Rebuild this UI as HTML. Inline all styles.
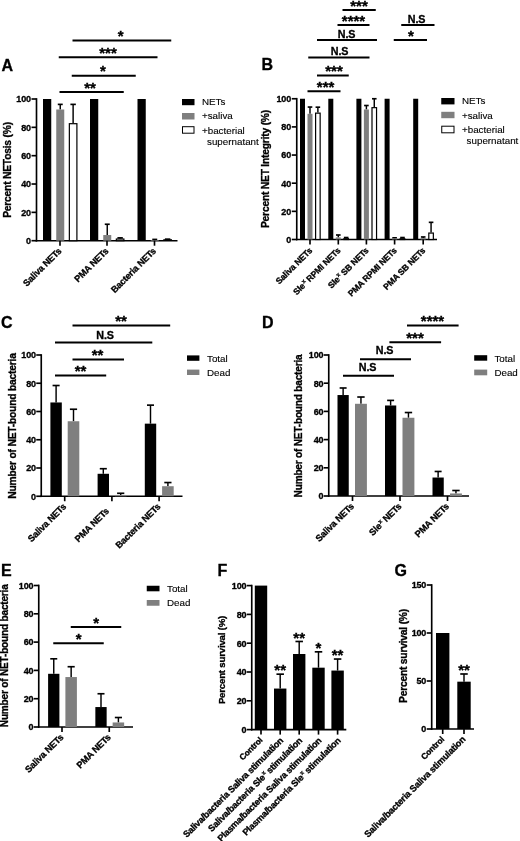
<!DOCTYPE html>
<html>
<head>
<meta charset="utf-8">
<title>Figure</title>
<style>
html, body { margin:0; padding:0; background:#fff; }
body { width:520px; height:841px; overflow:hidden; font-family: 'Liberation Sans', sans-serif; }
svg { display:block; filter: grayscale(1); }
svg text { font-family: "Liberation Sans", sans-serif; fill:#000; }
</style>
</head>
<body>
<svg width="520" height="841" viewBox="0 0 520 841">
<rect x="0" y="0" width="520" height="841" fill="#fff"/>
<text x="1.50" y="70.50" font-size="16" font-weight="bold" stroke="#000" stroke-width="0.32" text-anchor="start">A</text>
<line x1="36.50" y1="98.17" x2="36.50" y2="241.52" stroke="#000" stroke-width="1.65"/>
<line x1="35.67" y1="240.70" x2="177.50" y2="240.70" stroke="#000" stroke-width="1.65"/>
<line x1="31.50" y1="240.70" x2="36.50" y2="240.70" stroke="#000" stroke-width="1.65"/>
<text x="30.80" y="244.00" font-size="9.0" font-weight="bold" stroke="#000" stroke-width="0.32" text-anchor="end" letter-spacing="-0.18">0</text>
<line x1="31.50" y1="212.36" x2="36.50" y2="212.36" stroke="#000" stroke-width="1.65"/>
<text x="30.80" y="215.66" font-size="9.0" font-weight="bold" stroke="#000" stroke-width="0.32" text-anchor="end" letter-spacing="-0.18">20</text>
<line x1="31.50" y1="184.02" x2="36.50" y2="184.02" stroke="#000" stroke-width="1.65"/>
<text x="30.80" y="187.32" font-size="9.0" font-weight="bold" stroke="#000" stroke-width="0.32" text-anchor="end" letter-spacing="-0.18">40</text>
<line x1="31.50" y1="155.68" x2="36.50" y2="155.68" stroke="#000" stroke-width="1.65"/>
<text x="30.80" y="158.98" font-size="9.0" font-weight="bold" stroke="#000" stroke-width="0.32" text-anchor="end" letter-spacing="-0.18">60</text>
<line x1="31.50" y1="127.34" x2="36.50" y2="127.34" stroke="#000" stroke-width="1.65"/>
<text x="30.80" y="130.64" font-size="9.0" font-weight="bold" stroke="#000" stroke-width="0.32" text-anchor="end" letter-spacing="-0.18">80</text>
<line x1="31.50" y1="99.00" x2="36.50" y2="99.00" stroke="#000" stroke-width="1.65"/>
<text x="30.80" y="102.30" font-size="9.0" font-weight="bold" stroke="#000" stroke-width="0.32" text-anchor="end" letter-spacing="-0.18">100</text>
<text x="10.60" y="170.00" font-size="10.25" font-weight="bold" stroke="#000" stroke-width="0.32" text-anchor="middle" transform="rotate(-90 10.60 170.00)" letter-spacing="-0.20">Percent NETosis (%)</text>
<rect x="43.00" y="99.00" width="8.25" height="141.70" fill="#000"/>
<line x1="60.25" y1="104.38" x2="60.25" y2="109.49" stroke="#000" stroke-width="1.45"/>
<line x1="57.77" y1="104.38" x2="62.73" y2="104.38" stroke="#000" stroke-width="1.65"/>
<rect x="56.25" y="109.49" width="8.00" height="131.21" fill="#7f7f7f"/>
<line x1="73.12" y1="104.38" x2="73.12" y2="123.09" stroke="#000" stroke-width="1.45"/>
<line x1="70.41" y1="104.38" x2="75.84" y2="104.38" stroke="#000" stroke-width="1.65"/>
<rect x="69.35" y="123.69" width="7.55" height="117.01" fill="#fff" stroke="#000" stroke-width="1.2"/>
<line x1="60.00" y1="240.70" x2="60.00" y2="245.70" stroke="#000" stroke-width="1.65"/>
<text x="62.00" y="251.70" font-size="9.16" font-weight="bold" stroke="#000" stroke-width="0.32" text-anchor="end" transform="rotate(-45 62.00 251.70)" letter-spacing="-0.18">Saliva NETs</text>
<rect x="90.00" y="99.00" width="8.25" height="141.70" fill="#000"/>
<line x1="107.25" y1="224.26" x2="107.25" y2="235.03" stroke="#000" stroke-width="1.45"/>
<line x1="104.77" y1="224.26" x2="109.73" y2="224.26" stroke="#000" stroke-width="1.65"/>
<rect x="103.25" y="235.03" width="8.00" height="5.67" fill="#7f7f7f"/>
<line x1="120.12" y1="237.87" x2="120.12" y2="238.43" stroke="#000" stroke-width="1.45"/>
<line x1="117.41" y1="237.87" x2="122.84" y2="237.87" stroke="#000" stroke-width="1.65"/>
<rect x="116.35" y="239.03" width="7.55" height="1.67" fill="#fff" stroke="#000" stroke-width="1.2"/>
<line x1="107.00" y1="240.70" x2="107.00" y2="245.70" stroke="#000" stroke-width="1.65"/>
<text x="109.00" y="251.70" font-size="9.16" font-weight="bold" stroke="#000" stroke-width="0.32" text-anchor="end" transform="rotate(-45 109.00 251.70)" letter-spacing="-0.18">PMA NETs</text>
<rect x="137.50" y="99.00" width="8.25" height="141.70" fill="#000"/>
<line x1="154.75" y1="239.42" x2="154.75" y2="239.99" stroke="#000" stroke-width="1.45"/>
<line x1="152.27" y1="239.42" x2="157.23" y2="239.42" stroke="#000" stroke-width="1.65"/>
<rect x="150.75" y="239.99" width="8.00" height="0.71" fill="#7f7f7f"/>
<line x1="167.62" y1="239.14" x2="167.62" y2="239.71" stroke="#000" stroke-width="1.45"/>
<line x1="164.91" y1="239.14" x2="170.34" y2="239.14" stroke="#000" stroke-width="1.65"/>
<line x1="163.25" y1="239.71" x2="172.00" y2="239.71" stroke="#000" stroke-width="1.0"/>
<line x1="154.50" y1="240.70" x2="154.50" y2="245.70" stroke="#000" stroke-width="1.65"/>
<text x="156.50" y="251.70" font-size="9.16" font-weight="bold" stroke="#000" stroke-width="0.32" text-anchor="end" transform="rotate(-45 156.50 251.70)" letter-spacing="-0.18">Bacteria NETs</text>
<line x1="72.50" y1="40.50" x2="171.25" y2="40.50" stroke="#000" stroke-width="2.0"/>
<text x="120.75" y="41.00" font-size="15" font-weight="bold" stroke="#000" stroke-width="0.32" text-anchor="middle">*</text>
<line x1="58.75" y1="57.20" x2="157.50" y2="57.20" stroke="#000" stroke-width="2.0"/>
<text x="108.00" y="57.70" font-size="15" font-weight="bold" stroke="#000" stroke-width="0.32" text-anchor="middle">***</text>
<line x1="71.75" y1="75.80" x2="135.75" y2="75.80" stroke="#000" stroke-width="2.0"/>
<text x="103.00" y="76.30" font-size="15" font-weight="bold" stroke="#000" stroke-width="0.32" text-anchor="middle">*</text>
<line x1="59.50" y1="92.00" x2="123.75" y2="92.00" stroke="#000" stroke-width="2.0"/>
<text x="90.00" y="92.50" font-size="15" font-weight="bold" stroke="#000" stroke-width="0.32" text-anchor="middle">**</text>
<rect x="182.00" y="99.00" width="12.50" height="6.20" fill="#000"/>
<text x="202.00" y="105.30" font-size="9.8" stroke="#000" stroke-width="0.12" text-anchor="start">NETs</text>
<rect x="182.00" y="113.00" width="12.50" height="6.50" fill="#7f7f7f"/>
<text x="202.00" y="119.40" font-size="9.8" stroke="#000" stroke-width="0.12" text-anchor="start">+saliva</text>
<rect x="182.50" y="126.70" width="11.50" height="6.50" fill="#fff" stroke="#000" stroke-width="1.0"/>
<text x="202.00" y="133.50" font-size="9.8" stroke="#000" stroke-width="0.12" text-anchor="start">+bacterial</text>
<text x="207.00" y="145.40" font-size="9.8" stroke="#000" stroke-width="0.12" text-anchor="start">supernatant</text>
<text x="261.50" y="70.00" font-size="16" font-weight="bold" stroke="#000" stroke-width="0.32" text-anchor="start">B</text>
<line x1="296.75" y1="97.92" x2="296.75" y2="240.32" stroke="#000" stroke-width="1.65"/>
<line x1="295.93" y1="239.50" x2="437.00" y2="239.50" stroke="#000" stroke-width="1.65"/>
<line x1="291.75" y1="239.50" x2="296.75" y2="239.50" stroke="#000" stroke-width="1.65"/>
<text x="291.00" y="242.80" font-size="9.0" font-weight="bold" stroke="#000" stroke-width="0.32" text-anchor="end" letter-spacing="-0.18">0</text>
<line x1="291.75" y1="211.35" x2="296.75" y2="211.35" stroke="#000" stroke-width="1.65"/>
<text x="291.00" y="214.65" font-size="9.0" font-weight="bold" stroke="#000" stroke-width="0.32" text-anchor="end" letter-spacing="-0.18">20</text>
<line x1="291.75" y1="183.20" x2="296.75" y2="183.20" stroke="#000" stroke-width="1.65"/>
<text x="291.00" y="186.50" font-size="9.0" font-weight="bold" stroke="#000" stroke-width="0.32" text-anchor="end" letter-spacing="-0.18">40</text>
<line x1="291.75" y1="155.05" x2="296.75" y2="155.05" stroke="#000" stroke-width="1.65"/>
<text x="291.00" y="158.35" font-size="9.0" font-weight="bold" stroke="#000" stroke-width="0.32" text-anchor="end" letter-spacing="-0.18">60</text>
<line x1="291.75" y1="126.90" x2="296.75" y2="126.90" stroke="#000" stroke-width="1.65"/>
<text x="291.00" y="130.20" font-size="9.0" font-weight="bold" stroke="#000" stroke-width="0.32" text-anchor="end" letter-spacing="-0.18">80</text>
<line x1="291.75" y1="98.75" x2="296.75" y2="98.75" stroke="#000" stroke-width="1.65"/>
<text x="291.00" y="102.05" font-size="9.0" font-weight="bold" stroke="#000" stroke-width="0.32" text-anchor="end" letter-spacing="-0.18">100</text>
<text x="268.70" y="169.00" font-size="10.25" font-weight="bold" stroke="#000" stroke-width="0.32" text-anchor="middle" transform="rotate(-90 268.70 169.00)" letter-spacing="-0.20">Percent NET Integrity (%)</text>
<rect x="300.00" y="98.75" width="5.00" height="140.75" fill="#000"/>
<line x1="310.00" y1="107.05" x2="310.00" y2="113.81" stroke="#000" stroke-width="1.45"/>
<line x1="307.70" y1="107.05" x2="312.30" y2="107.05" stroke="#000" stroke-width="1.65"/>
<rect x="307.50" y="113.81" width="5.00" height="125.69" fill="#7f7f7f"/>
<line x1="317.88" y1="107.19" x2="317.88" y2="112.54" stroke="#000" stroke-width="1.45"/>
<line x1="315.57" y1="107.19" x2="320.18" y2="107.19" stroke="#000" stroke-width="1.65"/>
<rect x="315.60" y="113.14" width="4.55" height="126.36" fill="#fff" stroke="#000" stroke-width="1.2"/>
<line x1="310.00" y1="239.50" x2="310.00" y2="244.50" stroke="#000" stroke-width="1.65"/>
<text x="312.70" y="251.30" font-size="8.69" font-weight="bold" stroke="#000" stroke-width="0.32" text-anchor="end" transform="rotate(-45 312.70 251.30)" letter-spacing="-0.17">Saliva NETs</text>
<rect x="328.30" y="98.75" width="5.00" height="140.75" fill="#000"/>
<line x1="338.30" y1="235.00" x2="338.30" y2="237.39" stroke="#000" stroke-width="1.45"/>
<line x1="336.00" y1="235.00" x2="340.60" y2="235.00" stroke="#000" stroke-width="1.65"/>
<rect x="335.80" y="237.39" width="5.00" height="2.11" fill="#7f7f7f"/>
<line x1="346.18" y1="237.53" x2="346.18" y2="238.09" stroke="#000" stroke-width="1.45"/>
<line x1="343.88" y1="237.53" x2="348.48" y2="237.53" stroke="#000" stroke-width="1.65"/>
<rect x="343.90" y="238.69" width="4.55" height="0.81" fill="#fff" stroke="#000" stroke-width="1.2"/>
<line x1="338.30" y1="239.50" x2="338.30" y2="244.50" stroke="#000" stroke-width="1.65"/>
<text x="341.00" y="251.30" font-size="8.69" font-weight="bold" stroke="#000" stroke-width="0.32" text-anchor="end" transform="rotate(-45 341.00 251.30)" letter-spacing="-0.17">Sle<tspan font-size="5.8" dx="0.6" dy="-3.4">x</tspan><tspan dy="3.4"> </tspan>RPMI NETs</text>
<rect x="356.40" y="98.75" width="5.00" height="140.75" fill="#000"/>
<line x1="366.40" y1="105.51" x2="366.40" y2="109.45" stroke="#000" stroke-width="1.45"/>
<line x1="364.10" y1="105.51" x2="368.70" y2="105.51" stroke="#000" stroke-width="1.65"/>
<rect x="363.90" y="109.45" width="5.00" height="130.05" fill="#7f7f7f"/>
<line x1="374.27" y1="98.75" x2="374.27" y2="107.05" stroke="#000" stroke-width="1.45"/>
<line x1="371.97" y1="98.75" x2="376.57" y2="98.75" stroke="#000" stroke-width="1.65"/>
<rect x="372.00" y="107.65" width="4.55" height="131.85" fill="#fff" stroke="#000" stroke-width="1.2"/>
<line x1="366.40" y1="239.50" x2="366.40" y2="244.50" stroke="#000" stroke-width="1.65"/>
<text x="369.10" y="251.30" font-size="8.69" font-weight="bold" stroke="#000" stroke-width="0.32" text-anchor="end" transform="rotate(-45 369.10 251.30)" letter-spacing="-0.17">Sle<tspan font-size="5.8" dx="0.6" dy="-3.4">x</tspan><tspan dy="3.4"> </tspan>SB NETs</text>
<rect x="384.60" y="98.75" width="5.00" height="140.75" fill="#000"/>
<line x1="394.60" y1="237.81" x2="394.60" y2="238.37" stroke="#000" stroke-width="1.45"/>
<line x1="392.30" y1="237.81" x2="396.90" y2="237.81" stroke="#000" stroke-width="1.65"/>
<rect x="392.10" y="238.37" width="5.00" height="1.13" fill="#7f7f7f"/>
<line x1="402.48" y1="237.53" x2="402.48" y2="238.09" stroke="#000" stroke-width="1.45"/>
<line x1="400.18" y1="237.53" x2="404.78" y2="237.53" stroke="#000" stroke-width="1.65"/>
<rect x="400.20" y="238.69" width="4.55" height="0.81" fill="#fff" stroke="#000" stroke-width="1.2"/>
<line x1="394.60" y1="239.50" x2="394.60" y2="244.50" stroke="#000" stroke-width="1.65"/>
<text x="397.30" y="251.30" font-size="8.69" font-weight="bold" stroke="#000" stroke-width="0.32" text-anchor="end" transform="rotate(-45 397.30 251.30)" letter-spacing="-0.17">PMA RPMI NETs</text>
<rect x="413.20" y="98.75" width="5.00" height="140.75" fill="#000"/>
<line x1="423.20" y1="236.97" x2="423.20" y2="238.09" stroke="#000" stroke-width="1.45"/>
<line x1="420.90" y1="236.97" x2="425.50" y2="236.97" stroke="#000" stroke-width="1.65"/>
<rect x="420.70" y="238.09" width="5.00" height="1.41" fill="#7f7f7f"/>
<line x1="431.07" y1="222.33" x2="431.07" y2="232.46" stroke="#000" stroke-width="1.45"/>
<line x1="428.77" y1="222.33" x2="433.38" y2="222.33" stroke="#000" stroke-width="1.65"/>
<rect x="428.80" y="233.06" width="4.55" height="6.44" fill="#fff" stroke="#000" stroke-width="1.2"/>
<line x1="423.20" y1="239.50" x2="423.20" y2="244.50" stroke="#000" stroke-width="1.65"/>
<text x="425.90" y="251.30" font-size="8.69" font-weight="bold" stroke="#000" stroke-width="0.32" text-anchor="end" transform="rotate(-45 425.90 251.30)" letter-spacing="-0.17">PMA SB NETs</text>
<line x1="342.50" y1="10.00" x2="375.75" y2="10.00" stroke="#000" stroke-width="2.0"/>
<text x="359.00" y="10.50" font-size="15" font-weight="bold" stroke="#000" stroke-width="0.32" text-anchor="middle">***</text>
<line x1="337.50" y1="25.00" x2="369.50" y2="25.00" stroke="#000" stroke-width="2.0"/>
<text x="353.50" y="25.50" font-size="15" font-weight="bold" stroke="#000" stroke-width="0.32" text-anchor="middle">****</text>
<line x1="317.00" y1="40.00" x2="377.00" y2="40.00" stroke="#000" stroke-width="2.0"/>
<text x="346.50" y="37.80" font-size="10.76" font-weight="bold" stroke="#000" stroke-width="0.32" text-anchor="middle" letter-spacing="-0.21">N.S</text>
<line x1="308.25" y1="57.50" x2="369.50" y2="57.50" stroke="#000" stroke-width="2.0"/>
<text x="339.50" y="54.50" font-size="10.76" font-weight="bold" stroke="#000" stroke-width="0.32" text-anchor="middle" letter-spacing="-0.21">N.S</text>
<line x1="317.00" y1="75.50" x2="348.75" y2="75.50" stroke="#000" stroke-width="2.0"/>
<text x="334.00" y="76.00" font-size="15" font-weight="bold" stroke="#000" stroke-width="0.32" text-anchor="middle">***</text>
<line x1="307.50" y1="91.25" x2="340.50" y2="91.25" stroke="#000" stroke-width="2.0"/>
<text x="325.60" y="91.75" font-size="15" font-weight="bold" stroke="#000" stroke-width="0.32" text-anchor="middle">***</text>
<line x1="401.25" y1="25.00" x2="434.50" y2="25.00" stroke="#000" stroke-width="2.0"/>
<text x="416.50" y="23.00" font-size="10.76" font-weight="bold" stroke="#000" stroke-width="0.32" text-anchor="middle" letter-spacing="-0.21">N.S</text>
<line x1="393.75" y1="40.00" x2="427.00" y2="40.00" stroke="#000" stroke-width="2.0"/>
<text x="411.00" y="40.50" font-size="15" font-weight="bold" stroke="#000" stroke-width="0.32" text-anchor="middle">*</text>
<rect x="441.25" y="98.00" width="13.25" height="6.40" fill="#000"/>
<text x="462.00" y="104.40" font-size="9.8" stroke="#000" stroke-width="0.12" text-anchor="start">NETs</text>
<rect x="441.25" y="111.80" width="13.25" height="6.40" fill="#7f7f7f"/>
<text x="462.00" y="118.60" font-size="9.8" stroke="#000" stroke-width="0.12" text-anchor="start">+saliva</text>
<rect x="441.75" y="126.20" width="12.25" height="6.60" fill="#fff" stroke="#000" stroke-width="1.0"/>
<text x="462.00" y="133.00" font-size="9.8" stroke="#000" stroke-width="0.12" text-anchor="start">+bacterial</text>
<text x="466.60" y="144.00" font-size="9.8" stroke="#000" stroke-width="0.12" text-anchor="start">supernatant</text>
<text x="1.00" y="328.00" font-size="16" font-weight="bold" stroke="#000" stroke-width="0.32" text-anchor="start">C</text>
<line x1="41.25" y1="354.18" x2="41.25" y2="497.07" stroke="#000" stroke-width="1.65"/>
<line x1="40.42" y1="496.25" x2="182.50" y2="496.25" stroke="#000" stroke-width="1.65"/>
<line x1="36.25" y1="496.25" x2="41.25" y2="496.25" stroke="#000" stroke-width="1.65"/>
<text x="35.80" y="499.55" font-size="9.0" font-weight="bold" stroke="#000" stroke-width="0.32" text-anchor="end" letter-spacing="-0.18">0</text>
<line x1="36.25" y1="468.00" x2="41.25" y2="468.00" stroke="#000" stroke-width="1.65"/>
<text x="35.80" y="471.30" font-size="9.0" font-weight="bold" stroke="#000" stroke-width="0.32" text-anchor="end" letter-spacing="-0.18">20</text>
<line x1="36.25" y1="439.75" x2="41.25" y2="439.75" stroke="#000" stroke-width="1.65"/>
<text x="35.80" y="443.05" font-size="9.0" font-weight="bold" stroke="#000" stroke-width="0.32" text-anchor="end" letter-spacing="-0.18">40</text>
<line x1="36.25" y1="411.50" x2="41.25" y2="411.50" stroke="#000" stroke-width="1.65"/>
<text x="35.80" y="414.80" font-size="9.0" font-weight="bold" stroke="#000" stroke-width="0.32" text-anchor="end" letter-spacing="-0.18">60</text>
<line x1="36.25" y1="383.25" x2="41.25" y2="383.25" stroke="#000" stroke-width="1.65"/>
<text x="35.80" y="386.55" font-size="9.0" font-weight="bold" stroke="#000" stroke-width="0.32" text-anchor="end" letter-spacing="-0.18">80</text>
<line x1="36.25" y1="355.00" x2="41.25" y2="355.00" stroke="#000" stroke-width="1.65"/>
<text x="35.80" y="358.30" font-size="9.0" font-weight="bold" stroke="#000" stroke-width="0.32" text-anchor="end" letter-spacing="-0.18">100</text>
<text x="16.00" y="426.00" font-size="10.25" font-weight="bold" stroke="#000" stroke-width="0.32" text-anchor="middle" transform="rotate(-90 16.00 426.00)" letter-spacing="-0.20">Number of NET-bound bacteria</text>
<line x1="56.10" y1="385.51" x2="56.10" y2="402.46" stroke="#000" stroke-width="1.45"/>
<line x1="52.57" y1="385.51" x2="59.63" y2="385.51" stroke="#000" stroke-width="1.65"/>
<rect x="50.40" y="402.46" width="11.40" height="93.79" fill="#000"/>
<line x1="73.50" y1="409.24" x2="73.50" y2="421.25" stroke="#000" stroke-width="1.45"/>
<line x1="69.90" y1="409.24" x2="77.10" y2="409.24" stroke="#000" stroke-width="1.65"/>
<rect x="67.70" y="421.25" width="11.60" height="75.00" fill="#7f7f7f"/>
<line x1="64.70" y1="496.25" x2="64.70" y2="501.25" stroke="#000" stroke-width="1.65"/>
<text x="66.70" y="507.25" font-size="9.16" font-weight="bold" stroke="#000" stroke-width="0.32" text-anchor="end" transform="rotate(-45 66.70 507.25)" letter-spacing="-0.18">Saliva NETs</text>
<line x1="103.30" y1="468.71" x2="103.30" y2="473.79" stroke="#000" stroke-width="1.45"/>
<line x1="99.77" y1="468.71" x2="106.83" y2="468.71" stroke="#000" stroke-width="1.65"/>
<rect x="97.60" y="473.79" width="11.40" height="22.46" fill="#000"/>
<line x1="120.70" y1="493.28" x2="120.70" y2="494.98" stroke="#000" stroke-width="1.45"/>
<line x1="117.10" y1="493.28" x2="124.30" y2="493.28" stroke="#000" stroke-width="1.65"/>
<rect x="114.90" y="494.98" width="11.60" height="1.27" fill="#7f7f7f"/>
<line x1="111.90" y1="496.25" x2="111.90" y2="501.25" stroke="#000" stroke-width="1.65"/>
<text x="109.60" y="511.75" font-size="9.16" font-weight="bold" stroke="#000" stroke-width="0.32" text-anchor="end" transform="rotate(-45 109.60 511.75)" letter-spacing="-0.18">PMA NETs</text>
<line x1="150.50" y1="405.14" x2="150.50" y2="423.65" stroke="#000" stroke-width="1.45"/>
<line x1="146.97" y1="405.14" x2="154.03" y2="405.14" stroke="#000" stroke-width="1.65"/>
<rect x="144.80" y="423.65" width="11.40" height="72.60" fill="#000"/>
<line x1="167.90" y1="482.55" x2="167.90" y2="486.22" stroke="#000" stroke-width="1.45"/>
<line x1="164.30" y1="482.55" x2="171.50" y2="482.55" stroke="#000" stroke-width="1.65"/>
<rect x="162.10" y="486.22" width="11.60" height="10.03" fill="#7f7f7f"/>
<line x1="159.10" y1="496.25" x2="159.10" y2="501.25" stroke="#000" stroke-width="1.65"/>
<text x="161.10" y="507.25" font-size="9.16" font-weight="bold" stroke="#000" stroke-width="0.32" text-anchor="end" transform="rotate(-45 161.10 507.25)" letter-spacing="-0.18">Bacteria NETs</text>
<line x1="72.50" y1="325.40" x2="170.20" y2="325.40" stroke="#000" stroke-width="2.0"/>
<text x="121.00" y="325.90" font-size="15" font-weight="bold" stroke="#000" stroke-width="0.32" text-anchor="middle">**</text>
<line x1="55.00" y1="342.50" x2="152.30" y2="342.50" stroke="#000" stroke-width="2.0"/>
<text x="105.00" y="338.80" font-size="10.76" font-weight="bold" stroke="#000" stroke-width="0.32" text-anchor="middle" letter-spacing="-0.21">N.S</text>
<line x1="72.50" y1="359.50" x2="124.00" y2="359.50" stroke="#000" stroke-width="2.0"/>
<text x="97.50" y="360.00" font-size="15" font-weight="bold" stroke="#000" stroke-width="0.32" text-anchor="middle">**</text>
<line x1="55.00" y1="375.50" x2="106.20" y2="375.50" stroke="#000" stroke-width="2.0"/>
<text x="80.50" y="376.00" font-size="15" font-weight="bold" stroke="#000" stroke-width="0.32" text-anchor="middle">**</text>
<rect x="187.00" y="355.40" width="12.40" height="5.40" fill="#000"/>
<text x="207.00" y="361.60" font-size="9.8" stroke="#000" stroke-width="0.12" text-anchor="start">Total</text>
<rect x="187.00" y="369.60" width="12.40" height="5.40" fill="#7f7f7f"/>
<text x="207.00" y="375.60" font-size="9.8" stroke="#000" stroke-width="0.12" text-anchor="start">Dead</text>
<text x="262.00" y="328.00" font-size="16" font-weight="bold" stroke="#000" stroke-width="0.32" text-anchor="start">D</text>
<line x1="328.75" y1="354.18" x2="328.75" y2="496.82" stroke="#000" stroke-width="1.65"/>
<line x1="327.93" y1="496.00" x2="469.00" y2="496.00" stroke="#000" stroke-width="1.65"/>
<line x1="323.75" y1="496.00" x2="328.75" y2="496.00" stroke="#000" stroke-width="1.65"/>
<text x="323.30" y="499.30" font-size="9.0" font-weight="bold" stroke="#000" stroke-width="0.32" text-anchor="end" letter-spacing="-0.18">0</text>
<line x1="323.75" y1="467.80" x2="328.75" y2="467.80" stroke="#000" stroke-width="1.65"/>
<text x="323.30" y="471.10" font-size="9.0" font-weight="bold" stroke="#000" stroke-width="0.32" text-anchor="end" letter-spacing="-0.18">20</text>
<line x1="323.75" y1="439.60" x2="328.75" y2="439.60" stroke="#000" stroke-width="1.65"/>
<text x="323.30" y="442.90" font-size="9.0" font-weight="bold" stroke="#000" stroke-width="0.32" text-anchor="end" letter-spacing="-0.18">40</text>
<line x1="323.75" y1="411.40" x2="328.75" y2="411.40" stroke="#000" stroke-width="1.65"/>
<text x="323.30" y="414.70" font-size="9.0" font-weight="bold" stroke="#000" stroke-width="0.32" text-anchor="end" letter-spacing="-0.18">60</text>
<line x1="323.75" y1="383.20" x2="328.75" y2="383.20" stroke="#000" stroke-width="1.65"/>
<text x="323.30" y="386.50" font-size="9.0" font-weight="bold" stroke="#000" stroke-width="0.32" text-anchor="end" letter-spacing="-0.18">80</text>
<line x1="323.75" y1="355.00" x2="328.75" y2="355.00" stroke="#000" stroke-width="1.65"/>
<text x="323.30" y="358.30" font-size="9.0" font-weight="bold" stroke="#000" stroke-width="0.32" text-anchor="end" letter-spacing="-0.18">100</text>
<text x="302.40" y="426.00" font-size="10.09" font-weight="bold" stroke="#000" stroke-width="0.32" text-anchor="middle" transform="rotate(-90 302.40 426.00)" letter-spacing="-0.20">Number of NET-bound bacteria</text>
<line x1="343.12" y1="387.99" x2="343.12" y2="395.04" stroke="#000" stroke-width="1.45"/>
<line x1="339.64" y1="387.99" x2="346.61" y2="387.99" stroke="#000" stroke-width="1.65"/>
<rect x="337.50" y="395.04" width="11.25" height="100.96" fill="#000"/>
<line x1="360.95" y1="397.02" x2="360.95" y2="403.79" stroke="#000" stroke-width="1.45"/>
<line x1="357.26" y1="397.02" x2="364.64" y2="397.02" stroke="#000" stroke-width="1.65"/>
<rect x="355.00" y="403.79" width="11.90" height="92.21" fill="#7f7f7f"/>
<line x1="352.50" y1="496.00" x2="352.50" y2="501.00" stroke="#000" stroke-width="1.65"/>
<text x="354.50" y="507.00" font-size="9.16" font-weight="bold" stroke="#000" stroke-width="0.32" text-anchor="end" transform="rotate(-45 354.50 507.00)" letter-spacing="-0.18">Saliva NETs</text>
<line x1="390.62" y1="400.40" x2="390.62" y2="405.48" stroke="#000" stroke-width="1.45"/>
<line x1="387.14" y1="400.40" x2="394.11" y2="400.40" stroke="#000" stroke-width="1.65"/>
<rect x="385.00" y="405.48" width="11.25" height="90.52" fill="#000"/>
<line x1="408.45" y1="412.53" x2="408.45" y2="417.75" stroke="#000" stroke-width="1.45"/>
<line x1="404.76" y1="412.53" x2="412.14" y2="412.53" stroke="#000" stroke-width="1.65"/>
<rect x="402.50" y="417.75" width="11.90" height="78.25" fill="#7f7f7f"/>
<line x1="400.00" y1="496.00" x2="400.00" y2="501.00" stroke="#000" stroke-width="1.65"/>
<text x="402.00" y="507.00" font-size="9.16" font-weight="bold" stroke="#000" stroke-width="0.32" text-anchor="end" transform="rotate(-45 402.00 507.00)" letter-spacing="-0.18">Sle<tspan font-size="5.8" dx="0.6" dy="-3.4">x</tspan><tspan dy="3.4"> </tspan>NETs</text>
<line x1="438.12" y1="471.47" x2="438.12" y2="477.53" stroke="#000" stroke-width="1.45"/>
<line x1="434.64" y1="471.47" x2="441.61" y2="471.47" stroke="#000" stroke-width="1.65"/>
<rect x="432.50" y="477.53" width="11.25" height="18.47" fill="#000"/>
<line x1="455.95" y1="490.50" x2="455.95" y2="493.46" stroke="#000" stroke-width="1.45"/>
<line x1="452.26" y1="490.50" x2="459.64" y2="490.50" stroke="#000" stroke-width="1.65"/>
<rect x="450.00" y="493.46" width="11.90" height="2.54" fill="#7f7f7f"/>
<line x1="447.50" y1="496.00" x2="447.50" y2="501.00" stroke="#000" stroke-width="1.65"/>
<text x="449.50" y="507.00" font-size="9.16" font-weight="bold" stroke="#000" stroke-width="0.32" text-anchor="end" transform="rotate(-45 449.50 507.00)" letter-spacing="-0.18">PMA NETs</text>
<line x1="407.00" y1="325.60" x2="458.60" y2="325.60" stroke="#000" stroke-width="2.0"/>
<text x="432.50" y="326.10" font-size="15" font-weight="bold" stroke="#000" stroke-width="0.32" text-anchor="middle">****</text>
<line x1="389.40" y1="342.30" x2="441.10" y2="342.30" stroke="#000" stroke-width="2.0"/>
<text x="415.00" y="342.80" font-size="15" font-weight="bold" stroke="#000" stroke-width="0.32" text-anchor="middle">***</text>
<line x1="360.00" y1="359.30" x2="411.00" y2="359.30" stroke="#000" stroke-width="2.0"/>
<text x="384.50" y="354.00" font-size="10.76" font-weight="bold" stroke="#000" stroke-width="0.32" text-anchor="middle" letter-spacing="-0.21">N.S</text>
<line x1="343.00" y1="375.70" x2="394.00" y2="375.70" stroke="#000" stroke-width="2.0"/>
<text x="367.50" y="371.30" font-size="10.76" font-weight="bold" stroke="#000" stroke-width="0.32" text-anchor="middle" letter-spacing="-0.21">N.S</text>
<rect x="474.20" y="355.20" width="13.00" height="5.50" fill="#000"/>
<text x="494.40" y="361.50" font-size="9.8" stroke="#000" stroke-width="0.12" text-anchor="start">Total</text>
<rect x="474.20" y="369.60" width="13.00" height="5.70" fill="#7f7f7f"/>
<text x="494.40" y="376.00" font-size="9.8" stroke="#000" stroke-width="0.12" text-anchor="start">Dead</text>
<text x="1.00" y="575.50" font-size="16" font-weight="bold" stroke="#000" stroke-width="0.32" text-anchor="start">E</text>
<line x1="38.75" y1="584.67" x2="38.75" y2="727.83" stroke="#000" stroke-width="1.65"/>
<line x1="37.92" y1="727.00" x2="133.00" y2="727.00" stroke="#000" stroke-width="1.65"/>
<line x1="33.75" y1="727.00" x2="38.75" y2="727.00" stroke="#000" stroke-width="1.65"/>
<text x="33.30" y="730.30" font-size="9.0" font-weight="bold" stroke="#000" stroke-width="0.32" text-anchor="end" letter-spacing="-0.18">0</text>
<line x1="33.75" y1="698.70" x2="38.75" y2="698.70" stroke="#000" stroke-width="1.65"/>
<text x="33.30" y="702.00" font-size="9.0" font-weight="bold" stroke="#000" stroke-width="0.32" text-anchor="end" letter-spacing="-0.18">20</text>
<line x1="33.75" y1="670.40" x2="38.75" y2="670.40" stroke="#000" stroke-width="1.65"/>
<text x="33.30" y="673.70" font-size="9.0" font-weight="bold" stroke="#000" stroke-width="0.32" text-anchor="end" letter-spacing="-0.18">40</text>
<line x1="33.75" y1="642.10" x2="38.75" y2="642.10" stroke="#000" stroke-width="1.65"/>
<text x="33.30" y="645.40" font-size="9.0" font-weight="bold" stroke="#000" stroke-width="0.32" text-anchor="end" letter-spacing="-0.18">60</text>
<line x1="33.75" y1="613.80" x2="38.75" y2="613.80" stroke="#000" stroke-width="1.65"/>
<text x="33.30" y="617.10" font-size="9.0" font-weight="bold" stroke="#000" stroke-width="0.32" text-anchor="end" letter-spacing="-0.18">80</text>
<line x1="33.75" y1="585.50" x2="38.75" y2="585.50" stroke="#000" stroke-width="1.65"/>
<text x="33.30" y="588.80" font-size="9.0" font-weight="bold" stroke="#000" stroke-width="0.32" text-anchor="end" letter-spacing="-0.18">100</text>
<text x="8.20" y="655.80" font-size="10.09" font-weight="bold" stroke="#000" stroke-width="0.32" text-anchor="middle" transform="rotate(-90 8.20 655.80)" letter-spacing="-0.20">Number of NET-bound bacteria</text>
<line x1="53.75" y1="658.80" x2="53.75" y2="673.80" stroke="#000" stroke-width="1.45"/>
<line x1="50.25" y1="658.80" x2="57.25" y2="658.80" stroke="#000" stroke-width="1.65"/>
<rect x="48.10" y="673.80" width="11.30" height="53.20" fill="#000"/>
<line x1="71.15" y1="666.72" x2="71.15" y2="677.05" stroke="#000" stroke-width="1.45"/>
<line x1="67.59" y1="666.72" x2="74.72" y2="666.72" stroke="#000" stroke-width="1.65"/>
<rect x="65.40" y="677.05" width="11.50" height="49.95" fill="#7f7f7f"/>
<line x1="62.00" y1="727.00" x2="62.00" y2="732.00" stroke="#000" stroke-width="1.65"/>
<text x="64.00" y="738.00" font-size="9.16" font-weight="bold" stroke="#000" stroke-width="0.32" text-anchor="end" transform="rotate(-45 64.00 738.00)" letter-spacing="-0.18">Saliva NETs</text>
<line x1="101.00" y1="693.75" x2="101.00" y2="707.05" stroke="#000" stroke-width="1.45"/>
<line x1="97.50" y1="693.75" x2="104.50" y2="693.75" stroke="#000" stroke-width="1.65"/>
<rect x="95.35" y="707.05" width="11.30" height="19.95" fill="#000"/>
<line x1="118.40" y1="717.52" x2="118.40" y2="722.47" stroke="#000" stroke-width="1.45"/>
<line x1="114.84" y1="717.52" x2="121.97" y2="717.52" stroke="#000" stroke-width="1.65"/>
<rect x="112.65" y="722.47" width="11.50" height="4.53" fill="#7f7f7f"/>
<line x1="109.25" y1="727.00" x2="109.25" y2="732.00" stroke="#000" stroke-width="1.65"/>
<text x="111.25" y="738.00" font-size="9.16" font-weight="bold" stroke="#000" stroke-width="0.32" text-anchor="end" transform="rotate(-45 111.25 738.00)" letter-spacing="-0.18">PMA NETs</text>
<line x1="70.75" y1="627.00" x2="121.25" y2="627.00" stroke="#000" stroke-width="2.0"/>
<text x="96.25" y="627.50" font-size="15" font-weight="bold" stroke="#000" stroke-width="0.32" text-anchor="middle">*</text>
<line x1="53.25" y1="643.25" x2="103.75" y2="643.25" stroke="#000" stroke-width="2.0"/>
<text x="78.75" y="643.75" font-size="15" font-weight="bold" stroke="#000" stroke-width="0.32" text-anchor="middle">*</text>
<rect x="146.75" y="585.75" width="12.75" height="5.55" fill="#000"/>
<text x="167.00" y="592.10" font-size="9.8" stroke="#000" stroke-width="0.12" text-anchor="start">Total</text>
<rect x="146.75" y="600.00" width="12.75" height="5.75" fill="#7f7f7f"/>
<text x="167.00" y="606.30" font-size="9.8" stroke="#000" stroke-width="0.12" text-anchor="start">Dead</text>
<text x="217.50" y="575.50" font-size="16" font-weight="bold" stroke="#000" stroke-width="0.32" text-anchor="start">F</text>
<line x1="251.75" y1="584.77" x2="251.75" y2="730.43" stroke="#000" stroke-width="1.65"/>
<line x1="250.93" y1="729.60" x2="346.30" y2="729.60" stroke="#000" stroke-width="1.65"/>
<line x1="246.75" y1="729.60" x2="251.75" y2="729.60" stroke="#000" stroke-width="1.65"/>
<text x="246.30" y="732.90" font-size="9.0" font-weight="bold" stroke="#000" stroke-width="0.32" text-anchor="end" letter-spacing="-0.18">0</text>
<line x1="246.75" y1="700.80" x2="251.75" y2="700.80" stroke="#000" stroke-width="1.65"/>
<text x="246.30" y="704.10" font-size="9.0" font-weight="bold" stroke="#000" stroke-width="0.32" text-anchor="end" letter-spacing="-0.18">20</text>
<line x1="246.75" y1="672.00" x2="251.75" y2="672.00" stroke="#000" stroke-width="1.65"/>
<text x="246.30" y="675.30" font-size="9.0" font-weight="bold" stroke="#000" stroke-width="0.32" text-anchor="end" letter-spacing="-0.18">40</text>
<line x1="246.75" y1="643.20" x2="251.75" y2="643.20" stroke="#000" stroke-width="1.65"/>
<text x="246.30" y="646.50" font-size="9.0" font-weight="bold" stroke="#000" stroke-width="0.32" text-anchor="end" letter-spacing="-0.18">60</text>
<line x1="246.75" y1="614.40" x2="251.75" y2="614.40" stroke="#000" stroke-width="1.65"/>
<text x="246.30" y="617.70" font-size="9.0" font-weight="bold" stroke="#000" stroke-width="0.32" text-anchor="end" letter-spacing="-0.18">80</text>
<line x1="246.75" y1="585.60" x2="251.75" y2="585.60" stroke="#000" stroke-width="1.65"/>
<text x="246.30" y="588.90" font-size="9.0" font-weight="bold" stroke="#000" stroke-width="0.32" text-anchor="end" letter-spacing="-0.18">100</text>
<text x="225.30" y="660.00" font-size="9.63" font-weight="bold" stroke="#000" stroke-width="0.32" text-anchor="middle" transform="rotate(-90 225.30 660.00)" letter-spacing="-0.19">Percent survival (%)</text>
<rect x="254.80" y="585.60" width="12.40" height="144.00" fill="#000"/>
<line x1="261.00" y1="729.60" x2="261.00" y2="734.60" stroke="#000" stroke-width="1.65"/>
<text x="263.00" y="740.60" font-size="8.38" font-weight="bold" stroke="#000" stroke-width="0.32" text-anchor="end" transform="rotate(-45 263.00 740.60)" letter-spacing="-0.16">Control</text>
<line x1="280.20" y1="674.16" x2="280.20" y2="688.56" stroke="#000" stroke-width="1.45"/>
<line x1="276.45" y1="674.16" x2="283.95" y2="674.16" stroke="#000" stroke-width="1.65"/>
<rect x="274.00" y="688.56" width="12.40" height="41.04" fill="#000"/>
<line x1="280.20" y1="729.60" x2="280.20" y2="734.60" stroke="#000" stroke-width="1.65"/>
<text x="283.80" y="741.10" font-size="9.09" font-weight="bold" stroke="#000" stroke-width="0.32" text-anchor="end" transform="rotate(-45 283.80 741.10)" letter-spacing="-0.18">Saliva/bacteria Saliva stimulation</text>
<text x="280.20" y="675.26" font-size="15" font-weight="bold" stroke="#000" stroke-width="0.32" text-anchor="middle">**</text>
<line x1="299.20" y1="641.47" x2="299.20" y2="654.00" stroke="#000" stroke-width="1.45"/>
<line x1="295.45" y1="641.47" x2="302.95" y2="641.47" stroke="#000" stroke-width="1.65"/>
<rect x="293.00" y="654.00" width="12.40" height="75.60" fill="#000"/>
<line x1="299.20" y1="729.60" x2="299.20" y2="734.60" stroke="#000" stroke-width="1.65"/>
<text x="302.80" y="741.10" font-size="9.09" font-weight="bold" stroke="#000" stroke-width="0.32" text-anchor="end" transform="rotate(-45 302.80 741.10)" letter-spacing="-0.18">Saliva/bacteria Sle<tspan font-size="5.8" dx="0.6" dy="-3.4">x</tspan><tspan dy="3.4"> </tspan>stimulation</text>
<text x="299.20" y="642.57" font-size="15" font-weight="bold" stroke="#000" stroke-width="0.32" text-anchor="middle">**</text>
<line x1="318.50" y1="651.84" x2="318.50" y2="667.68" stroke="#000" stroke-width="1.45"/>
<line x1="314.75" y1="651.84" x2="322.25" y2="651.84" stroke="#000" stroke-width="1.65"/>
<rect x="312.30" y="667.68" width="12.40" height="61.92" fill="#000"/>
<line x1="318.50" y1="729.60" x2="318.50" y2="734.60" stroke="#000" stroke-width="1.65"/>
<text x="322.10" y="741.10" font-size="9.09" font-weight="bold" stroke="#000" stroke-width="0.32" text-anchor="end" transform="rotate(-45 322.10 741.10)" letter-spacing="-0.18">Plasma/bacteria Saliva stimulation</text>
<text x="318.50" y="652.94" font-size="15" font-weight="bold" stroke="#000" stroke-width="0.32" text-anchor="middle">*</text>
<line x1="337.60" y1="659.04" x2="337.60" y2="670.56" stroke="#000" stroke-width="1.45"/>
<line x1="333.85" y1="659.04" x2="341.35" y2="659.04" stroke="#000" stroke-width="1.65"/>
<rect x="331.40" y="670.56" width="12.40" height="59.04" fill="#000"/>
<line x1="337.60" y1="729.60" x2="337.60" y2="734.60" stroke="#000" stroke-width="1.65"/>
<text x="341.20" y="741.10" font-size="9.09" font-weight="bold" stroke="#000" stroke-width="0.32" text-anchor="end" transform="rotate(-45 341.20 741.10)" letter-spacing="-0.18">Plasma/bacteria Sle<tspan font-size="5.8" dx="0.6" dy="-3.4">x</tspan><tspan dy="3.4"> </tspan>stimulation</text>
<text x="337.60" y="660.14" font-size="15" font-weight="bold" stroke="#000" stroke-width="0.32" text-anchor="middle">**</text>
<text x="394.50" y="576.00" font-size="16" font-weight="bold" stroke="#000" stroke-width="0.32" text-anchor="start">G</text>
<line x1="431.70" y1="584.17" x2="431.70" y2="729.83" stroke="#000" stroke-width="1.65"/>
<line x1="430.88" y1="729.00" x2="474.00" y2="729.00" stroke="#000" stroke-width="1.65"/>
<line x1="426.70" y1="729.00" x2="431.70" y2="729.00" stroke="#000" stroke-width="1.65"/>
<text x="426.20" y="732.30" font-size="9.0" font-weight="bold" stroke="#000" stroke-width="0.32" text-anchor="end" letter-spacing="-0.18">0</text>
<line x1="426.70" y1="681.00" x2="431.70" y2="681.00" stroke="#000" stroke-width="1.65"/>
<text x="426.20" y="684.30" font-size="9.0" font-weight="bold" stroke="#000" stroke-width="0.32" text-anchor="end" letter-spacing="-0.18">50</text>
<line x1="426.70" y1="633.00" x2="431.70" y2="633.00" stroke="#000" stroke-width="1.65"/>
<text x="426.20" y="636.30" font-size="9.0" font-weight="bold" stroke="#000" stroke-width="0.32" text-anchor="end" letter-spacing="-0.18">100</text>
<line x1="426.70" y1="585.00" x2="431.70" y2="585.00" stroke="#000" stroke-width="1.65"/>
<text x="426.20" y="588.30" font-size="9.0" font-weight="bold" stroke="#000" stroke-width="0.32" text-anchor="end" letter-spacing="-0.18">150</text>
<text x="407.30" y="656.00" font-size="10.25" font-weight="bold" stroke="#000" stroke-width="0.32" text-anchor="middle" transform="rotate(-90 407.30 656.00)" letter-spacing="-0.20">Percent survival (%)</text>
<rect x="436.00" y="633.00" width="13.40" height="96.00" fill="#000"/>
<line x1="442.70" y1="729.00" x2="442.70" y2="734.00" stroke="#000" stroke-width="1.65"/>
<text x="444.70" y="740.00" font-size="8.38" font-weight="bold" stroke="#000" stroke-width="0.32" text-anchor="end" transform="rotate(-45 444.70 740.00)" letter-spacing="-0.16">Control</text>
<line x1="464.00" y1="673.99" x2="464.00" y2="681.67" stroke="#000" stroke-width="1.45"/>
<line x1="460.25" y1="673.99" x2="467.75" y2="673.99" stroke="#000" stroke-width="1.65"/>
<rect x="457.30" y="681.67" width="13.40" height="47.33" fill="#000"/>
<line x1="464.00" y1="729.00" x2="464.00" y2="734.00" stroke="#000" stroke-width="1.65"/>
<text x="466.00" y="740.00" font-size="9.16" font-weight="bold" stroke="#000" stroke-width="0.32" text-anchor="end" transform="rotate(-45 466.00 740.00)" letter-spacing="-0.18">Saliva/bacteria Saliva stimulation</text>
<text x="464.00" y="675.09" font-size="15" font-weight="bold" stroke="#000" stroke-width="0.32" text-anchor="middle">**</text>
</svg>
</body>
</html>
